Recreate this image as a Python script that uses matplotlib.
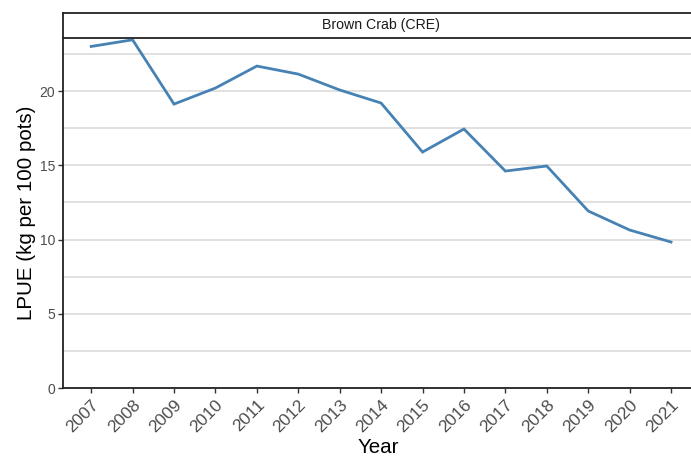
import matplotlib
matplotlib.use("Agg")
import matplotlib.pyplot as plt
from matplotlib.ticker import MultipleLocator

plt.rcParams['font.family'] = ['Liberation Sans', 'DejaVu Sans']

# data
years = [2007, 2008, 2009, 2010, 2011, 2012, 2013, 2014,
         2015, 2016, 2017, 2018, 2019, 2020, 2021]
lpue = [23.0, 23.45, 19.12, 20.2, 21.68, 21.14, 20.07, 19.19,
        15.89, 17.44, 14.61, 14.95, 11.92, 10.64, 9.83]
strip_label = "Brown Crab (CRE)"

W, H = 691, 459
fig = plt.figure(figsize=(W / 100, H / 100), dpi=100)

# main panel
left, right, top, bottom = 63, 693, 38, 388
ax = fig.add_axes([left / W, (H - bottom) / H, (right - left) / W, (bottom - top) / H])
ax.plot(years, lpue, color="#4682B4", linewidth=2.0, solid_joinstyle="miter")

ax.set_xlim(2006.32, 2021.53)
ax.set_ylim(0, 23.57)
ax.set_xticks(years)
ax.set_xticklabels([str(y) for y in years], rotation=45, ha="right",
                   rotation_mode="anchor", fontsize=12.5, color="#4D4D4D")
ax.yaxis.set_major_locator(MultipleLocator(5))
ax.yaxis.set_minor_locator(MultipleLocator(2.5))
ax.tick_params(axis="y", which="major", labelsize=10, labelcolor="#4D4D4D",
               length=3.5, width=1.0, color="#333333", pad=2)
ax.tick_params(axis="y", which="minor", length=0)
ax.tick_params(axis="x", length=3.5, width=1.0, color="#333333", pad=3)

ax.grid(axis="y", which="both", color="#DEDEDE", linewidth=1.3)
ax.set_axisbelow(True)
for s in ("top", "right"):
    ax.spines[s].set_visible(False)
for s in ("left", "bottom"):
    ax.spines[s].set_color("#222222")
    ax.spines[s].set_linewidth(1.3)

ax.set_ylabel("LPUE (kg per 100 pots)", fontsize=14.8, labelpad=3)
ax.set_xlabel("Year", fontsize=14.8, labelpad=2)

# facet strip
s_top, s_bot = 13, 38
sax = fig.add_axes([left / W, (H - s_bot) / H, (right - left) / W, (s_bot - s_top) / H])
sax.set_xticks([])
sax.set_yticks([])
for s in sax.spines.values():
    s.set_color("#222222")
    s.set_linewidth(1.3)
sax.text(0.505, 0.5, strip_label, transform=sax.transAxes, ha="center",
         va="center", fontsize=10.2, color="#1A1A1A")

fig.savefig("out.png", dpi=100)
